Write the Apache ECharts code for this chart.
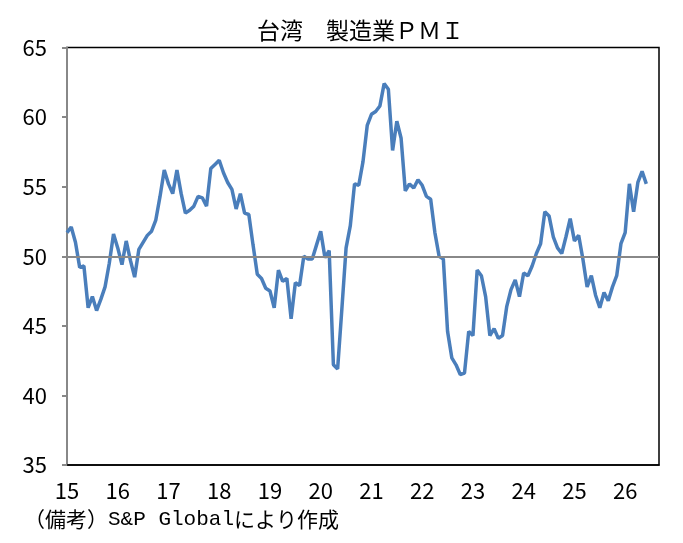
<!DOCTYPE html>
<html>
<head>
<meta charset="utf-8">
<script src="https://cdn.jsdelivr.net/npm/echarts@6/dist/echarts.min.js"></script>
<style>
  html, body { margin: 0; padding: 0; background: #fff; }
  #main { width: 683px; height: 543px; }
</style>
</head>
<body>
<div id="main"></div>
<script>
// 台湾 製造業PMI（月次、2015年1月～）
var pmi2015 = [51.7, 52.1, 51.0, 49.2, 49.3, 46.3, 47.1, 46.1, 46.9, 47.8, 49.5, 51.6];
var pmi2016 = [50.6, 49.4, 51.1, 49.7, 48.5, 50.5, 51.0, 51.5, 51.8, 52.6, 54.3, 56.2];
var pmi2017 = [55.2, 54.5, 56.2, 54.5, 53.1, 53.3, 53.6, 54.3, 54.2, 53.6, 56.3, 56.6];
var pmi2018 = [56.9, 56.0, 55.3, 54.8, 53.4, 54.5, 53.1, 53.0, 50.8, 48.7, 48.4, 47.7];
var pmi2019 = [47.5, 46.3, 49.0, 48.2, 48.4, 45.5, 48.1, 47.9, 50.0, 49.8, 49.8, 50.8];
var pmi2020 = [51.8, 49.9, 50.4, 42.2, 41.9, 46.2, 50.6, 52.2, 55.2, 55.1, 56.8, 59.4];
var pmi2021 = [60.2, 60.4, 60.8, 62.4, 62.0, 57.6, 59.7, 58.5, 54.7, 55.2, 54.9, 55.5];
var pmi2022 = [55.1, 54.3, 54.1, 51.7, 50.0, 49.8, 44.6, 42.7, 42.2, 41.5, 41.6, 44.6];
var pmi2023 = [44.3, 49.0, 48.6, 47.1, 44.3, 44.8, 44.1, 44.3, 46.4, 47.6, 48.3, 47.1];
var pmi2024 = [48.8, 48.6, 49.3, 50.2, 50.9, 53.2, 52.9, 51.4, 50.6, 50.2, 51.4, 52.7];
var pmi2025 = [51.1, 51.5, 49.8, 47.8, 48.6, 47.2, 46.3, 47.4, 46.8, 47.8, 48.6, 50.9];
var pmi2026 = [51.7, 55.2, 53.2, 55.3, 56.1, 55.2];

var years = [15, 16, 17, 18, 19, 20, 21, 22, 23, 24, 25, 26];
var lastMonth2026 = 9; // 横軸は26年9月まで
var yTicks = [35, 40, 45, 50, 55, 60, 65];
var baseLine = 50;

var pmi = [].concat(pmi2015, pmi2016, pmi2017, pmi2018, pmi2019, pmi2020,
  pmi2021, pmi2022, pmi2023, pmi2024, pmi2025, pmi2026);

var months = [];
years.forEach(function (y) {
  var n = (y === 26) ? lastMonth2026 : 12;
  for (var m = 1; m <= n; m++) {
    months.push(y + '/' + m);
  }
});

var myChart = echarts.init(document.getElementById('main'));

var option = {
  animation: false,
  backgroundColor: '#fff',
  title: {
    text: '台湾　製造業ＰＭＩ',
    left: 252,
    top: 14,
    textStyle: {
      fontFamily: 'Noto Sans CJK JP',
      fontSize: 23,
      fontWeight: 'normal',
      color: '#000'
    }
  },
  grid: {
    left: 67,
    right: 24,
    top: 47.5,
    bottom: 78,
    show: true,
    borderColor: '#000',
    borderWidth: 1.5
  },
  xAxis: {
    type: 'category',
    data: months,
    boundaryGap: false,
    axisLine: { lineStyle: { color: '#000', width: 1.5 } },
    axisTick: { show: false },
    axisLabel: {
      interval: function (i) { return i % 12 === 0; },
      formatter: function (v) { return v.split('/')[0]; },
      margin: 15,
      color: '#000',
      fontFamily: 'Noto Sans CJK JP',
      fontSize: 22
    },
    splitLine: { show: false }
  },
  yAxis: {
    type: 'value',
    min: yTicks[0],
    max: yTicks[yTicks.length - 1],
    interval: 5,
    axisLine: { show: true, lineStyle: { color: '#888', width: 2 } },
    axisTick: { show: true, length: 5, lineStyle: { color: '#888', width: 2 } },
    axisLabel: {
      margin: 20,
      color: '#000',
      fontFamily: 'Noto Sans CJK JP',
      fontSize: 22
    },
    splitLine: { show: false }
  },
  graphic: [{
    type: 'text',
    left: 24,
    top: 509,
    style: {
      text: '{a|（備考）}{b|S&P Global}{a|により作成}',
      rich: {
        a: { fontFamily: 'Noto Sans CJK JP', fontSize: 21, fill: '#000' },
        b: { fontFamily: 'Liberation Mono', fontSize: 21, fill: '#000' }
      }
    }
  }],
  series: [{
    name: 'PMI',
    type: 'line',
    data: pmi,
    showSymbol: false,
    symbol: 'none',
    lineStyle: { color: '#4a7ebb', width: 3.5 },
    markLine: {
      silent: true,
      symbol: 'none',
      label: { show: false },
      lineStyle: { color: '#888', width: 2, type: 'solid' },
      data: [{ yAxis: baseLine }]
    },
    z: 3
  }]
};

myChart.setOption(option);
</script>
</body>
</html>
